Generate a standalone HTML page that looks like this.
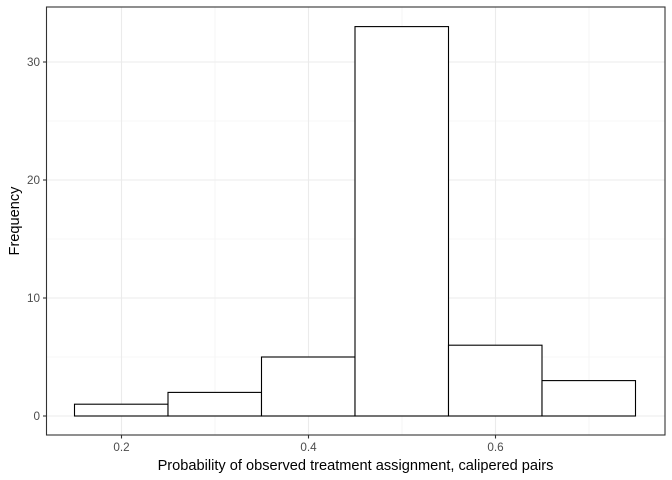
<!DOCTYPE html>
<html><head><meta charset="utf-8"><style>body{margin:0;background:#fff}svg{display:block}</style></head><body>
<svg width="672" height="480" xmlns="http://www.w3.org/2000/svg" font-family="Liberation Sans, Arial, sans-serif">
<rect width="672" height="480" fill="#fff"/>
<g stroke="#f0f0f0" stroke-width="0.6">
<line x1="46.5" x2="665" y1="357" y2="357"/><line x1="46.5" x2="665" y1="239" y2="239"/><line x1="46.5" x2="665" y1="121" y2="121"/>
<line x1="215" x2="215" y1="7" y2="435"/><line x1="402" x2="402" y1="7" y2="435"/><line x1="589" x2="589" y1="7" y2="435"/>
</g>
<g stroke="#ebebeb" stroke-width="1.1">
<line x1="46.5" x2="665" y1="416" y2="416"/><line x1="46.5" x2="665" y1="298" y2="298"/><line x1="46.5" x2="665" y1="180" y2="180"/><line x1="46.5" x2="665" y1="62" y2="62"/>
<line x1="121.5" x2="121.5" y1="7" y2="435"/><line x1="308.5" x2="308.5" y1="7" y2="435"/><line x1="495.5" x2="495.5" y1="7" y2="435"/>
</g>
<g fill="#fff" stroke="#000" stroke-width="1.1">
<rect x="74.5" y="404.2" width="93.5" height="11.8"/>
<rect x="168" y="392.4" width="93.5" height="23.6"/>
<rect x="261.5" y="357" width="93.5" height="59"/>
<rect x="355" y="26.6" width="93.5" height="389.4"/>
<rect x="448.5" y="345.2" width="93.5" height="70.8"/>
<rect x="542" y="380.6" width="93.5" height="35.4"/>
</g>
<rect x="46.5" y="7" width="618.5" height="428" fill="none" stroke="#333" stroke-width="1.1"/>
<g stroke="#333" stroke-width="1.1">
<line x1="43" x2="46.5" y1="416" y2="416"/><line x1="43" x2="46.5" y1="298" y2="298"/><line x1="43" x2="46.5" y1="180" y2="180"/><line x1="43" x2="46.5" y1="62" y2="62"/>
<line x1="121.5" x2="121.5" y1="435" y2="438.5"/><line x1="308.5" x2="308.5" y1="435" y2="438.5"/><line x1="495.5" x2="495.5" y1="435" y2="438.5"/>
</g>
<g fill="#4d4d4d" font-size="11.7" text-anchor="end">
<text x="40" y="420">0</text><text x="40" y="302">10</text><text x="40" y="184">20</text><text x="40" y="66">30</text>
</g>
<g fill="#4d4d4d" font-size="11.7" text-anchor="middle">
<text x="121.5" y="451">0.2</text><text x="308.5" y="451">0.4</text><text x="495.5" y="451">0.6</text>
</g>
<text x="355.5" y="470" font-size="14.6" text-anchor="middle" fill="#000">Probability of observed treatment assignment, calipered pairs</text>
<text transform="translate(19,221) rotate(-90)" font-size="14.6" text-anchor="middle" fill="#000">Frequency</text>
</svg>
</body></html>
